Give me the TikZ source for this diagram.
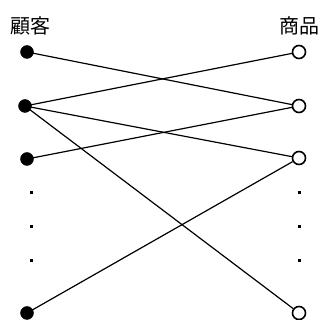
\documentclass[tikz,border=0pt]{standalone}
\usepackage{fontspec}
\newfontfamily\cjk{Noto Sans CJK JP}
\begin{document}
\begin{tikzpicture}[x=1pt,y=-1pt,
  cust/.style={circle,fill=black,draw=black,inner sep=0pt,minimum size=13pt},
  item/.style={circle,fill=white,draw=black,line width=1.6pt,inner sep=0pt,minimum size=13pt},
  tiny/.style={rectangle,fill=black,inner sep=0pt,minimum size=3pt},
  head/.style={font=\cjk\fontsize{20}{24}\selectfont},
  link/.style={line width=1.2pt}]
\useasboundingbox (0,0) rectangle (322,320);
% column headings
\node[head] (hc) at (31,26) {顧客};
\node[head] (hp) at (299,26) {商品};
% customers
\node[cust] (c1) at (27,52) {};
\node[cust] (c2) at (25,106) {};
\node[cust] (c3) at (27,159) {};
\node[cust] (c5) at (27,313) {};
% products
\node[item] (p1) at (299,52) {};
\node[item] (p2) at (299,106) {};
\node[item] (p3) at (299,158) {};
\node[item] (p5) at (299,313) {};
% ellipsis dots
\foreach \i/\y in {1/193,2/227,3/261} {
  \node[tiny] (lc\i) at (31,\y) {};
  \node[tiny] (rp\i) at (299,\y) {};
}
% purchases
\draw[link] (c1.center) -- (p2);
\draw[link] (c2.center) -- (p1);
\draw[link] (c2.center) -- (p3);
\draw[link] (c2.center) -- (p5);
\draw[link] (c3.center) -- (p2);
\draw[link] (c5.center) -- (p3);
\end{tikzpicture}
\end{document}
